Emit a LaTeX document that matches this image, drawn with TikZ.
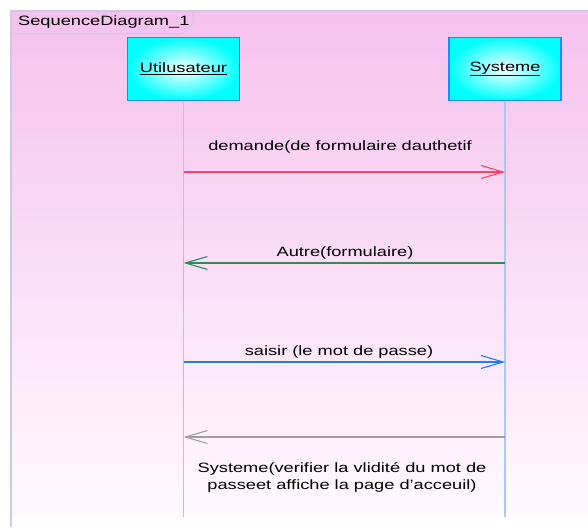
\documentclass[tikz,border=0pt]{standalone}
\usepackage{fontspec}
\setmainfont{Liberation Sans}[FakeStretch=1.35]
\usetikzlibrary{arrows.meta}
\definecolor{framepink}{HTML}{F5C1EE}
\definecolor{framelight}{HTML}{FFFAFE}
\definecolor{frameedge}{HTML}{CACAE6}
\definecolor{lifeblue}{HTML}{A9C8F5}
\definecolor{boxedge}{HTML}{1E88FF}
\definecolor{msgred}{HTML}{FF4060}
\definecolor{msggreen}{HTML}{2E8B5A}
\definecolor{msgblue}{HTML}{1E80F0}
\definecolor{msggray}{HTML}{A0A0A0}
\tikzset{
  every node/.style={font=\fontsize{13.5}{17}\selectfont, text=black},
  objbox/.style={draw=boxedge, line width=1.6pt, minimum width=112pt, minimum height=63pt,
    inner color=cyan!4, outer color=cyan, shading=radial},
  lifeline/.style={draw=lifeblue, line width=1.2pt},
  msg/.style={line width=1.1pt, -{Straight Barb[length=22pt,width=13pt,line width=1.1pt]}},
  msglabel/.style={inner sep=0pt}
}
\begin{document}
\begin{tikzpicture}[x=1pt,y=-1pt]
\useasboundingbox (0,0) rectangle (588,527);
\fill[white] (0,0) rectangle (588,527);
% diagram frame with fading background
\shade[top color=framepink, bottom color=framelight] (11,11) rectangle (588,517);
\draw[frameedge, line width=1.2pt] (11,527) -- (11,11) -- (588,11);
% name tab
\draw[frameedge, line width=1pt] (11,34) -- (182,34) -- (193,24) -- (193,11);
\node[anchor=west, inner sep=0pt] (title) at (18,22.5) {SequenceDiagram\_1};
% participants
\node[objbox] (user) at (183.5,69) {\underline{Utilusateur}};
\node[objbox] (sys) at (505,69) {\underline{Systeme}};
\coordinate (userend) at (183.5,517);
\coordinate (sysend) at (505,517);
\draw[lifeline] (user.south) -- (userend);
\draw[lifeline] (sys.south) -- (sysend);
% message anchor points on the lifelines
\coordinate (u1) at (183.5,172); \coordinate (s1) at (505,172);
\coordinate (u2) at (183.5,263); \coordinate (s2) at (505,263);
\coordinate (u3) at (183.5,362); \coordinate (s3) at (505,362);
\coordinate (u4) at (183.5,437); \coordinate (s4) at (505,437);
% messages
\draw[msg, msgred] (u1) -- (s1);
\node[msglabel] (m1) at (340,147) {demande(de formulaire dauthetif};
\draw[msg, msggreen] (s2) -- (u2);
\node[msglabel] (m2) at (345,253) {Autre(formulaire)};
\draw[msg, msgblue] (u3) -- (s3);
\node[msglabel] (m3) at (339,352) {saisir (le mot de passe)};
\draw[msg, msggray] (s4) -- (u4);
\node[msglabel, align=center] (m4) at (342,477) {Systeme(verifier la vlidité du mot de\\passeet affiche la page d'acceuil)};
\end{tikzpicture}
\end{document}
